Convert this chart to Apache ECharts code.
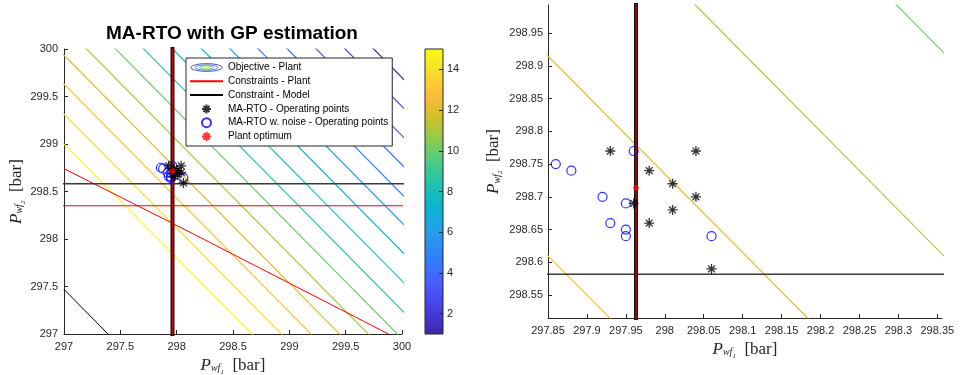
<!DOCTYPE html>
<html><head><meta charset="utf-8">
<script src="https://cdn.jsdelivr.net/npm/echarts@6/dist/echarts.min.js"></script>
<style>html,body{margin:0;padding:0;background:#fff}#c{width:963px;height:375px}</style>
</head><body><div id="c"></div>
<script>
// ---------------- data ----------------
const contourLevels = [15, 14, 13, 12, 11, 10, 9, 8, 7, 6, 5, 4, 3, 2, 1];
// contour lines: P2 = intercept + slope * P1
const contourIntercept = [655.40, 655.715, 656.03, 656.335, 656.64, 656.95, 657.25, 657.558, 657.868, 658.17, 658.47, 658.78, 659.087, 659.395, 659.698];
const contourSlope = -1.2;

const maRtoX = [297.93, 297.98, 298.01, 298.04, 298.04, 298.01, 297.98, 297.96, 298.06];
const maRtoY = [298.77, 298.74, 298.72, 298.77, 298.70, 298.68, 298.66, 298.69, 298.59];
const noiseX = [297.86, 297.88, 297.92, 297.93, 297.95, 297.95, 297.95, 297.96, 298.06];
const noiseY = [298.75, 298.74, 298.70, 298.66, 298.69, 298.65, 298.64, 298.77, 298.64];
const plantOptX = [297.963];
const plantOptY = [298.714];

const plantConstrP1 = 297.963;      // vertical plant constraint
const modelConstrP1 = 297.963;      // vertical model constraint
const plantConstrP2 = 298.35;       // horizontal plant constraint
const modelConstrP2 = 298.582;      // horizontal model constraint
const plantDiagX = [297, 297.963, 299.88];
const plantDiagY = [298.74, 298.165, 297];
const modelDiagX = [297, 297.39];
const modelDiagY = [297.47, 297];

const leftTicks = [297, 297.5, 298, 298.5, 299, 299.5, 300];
const rightXTicks = [297.85, 297.9, 297.95, 298, 298.05, 298.1, 298.15, 298.2, 298.25, 298.3, 298.35];
const rightYTicks = [298.55, 298.6, 298.65, 298.7, 298.75, 298.8, 298.85, 298.9, 298.95];
const colorbarTicks = [2, 4, 6, 8, 10, 12, 14];
const leftRange = [297, 300];
const rightXRange = [297.85, 298.356];
const rightYRange = [298.515, 298.993];
const colorRange = [1, 15];

// ---------------- parula colormap (index out of 63) ----------------
const parulaStops = [
  [0, '#3e26a8'], [4, '#4537d5'], [8, '#484cf0'], [12, '#4563fd'], [16, '#327cfc'],
  [20, '#2b91ef'], [24, '#20a5e3'], [28, '#08b4d0'], [32, '#19bfb6'], [36, '#37c897'],
  [40, '#64cd6f'], [44, '#9dc943'], [48, '#d1bf27'], [52, '#f8ba3d'], [54, '#fec338'],
  [56, '#fccf30'], [60, '#f5e924'], [63, '#f9fb15']
];
function hex2rgb(h){return [parseInt(h.substr(1,2),16),parseInt(h.substr(3,2),16),parseInt(h.substr(5,2),16)];}
function toHex(v){const s = v.toString(16); return s.length < 2 ? '0' + s : s;}
function parula(t){
  const idx = Math.max(0, Math.min(1, t)) * 63;
  for (let i = 0; i < parulaStops.length - 1; i++) {
    const a = parulaStops[i], b = parulaStops[i+1];
    if (idx >= a[0] && idx <= b[0]) {
      const f = (idx - a[0]) / (b[0] - a[0]);
      const ca = hex2rgb(a[1]), cb = hex2rgb(b[1]);
      return '#' + ca.map((v,k)=>toHex(Math.round(v + (cb[k]-v)*f))).join('');
    }
  }
  return parulaStops[parulaStops.length-1][1];
}
const levelColor = lv => parula((lv - colorRange[0]) / (colorRange[1] - colorRange[0]));
const barStops = [];
for (let i = 0; i <= 63; i++) barStops.push({offset: i / 63, color: parula(i / 63)});

// ---------------- styles ----------------
const SANS = 'Liberation Sans, Arial, Helvetica, sans-serif';
const SERIF = 'Liberation Serif, Times New Roman, serif';
const AX = '#262626';
const CLEAR = 'rgba(0,0,0,0)';
const asterisk = 'path://M5,0L5,10M0,5L10,5M1.6,1.6L8.4,8.4M1.6,8.4L8.4,1.6';

function nameRich(){
  return {
    p: {fontFamily: SERIF, fontStyle: 'italic', fontSize: 17, color: AX, lineHeight: 20},
    s: {fontFamily: SERIF, fontStyle: 'italic', fontSize: 10, color: AX, lineHeight: 20, verticalAlign: 'bottom', padding: [0,0,2,0]},
    t: {fontFamily: SERIF, fontStyle: 'italic', fontSize: 7, color: AX, lineHeight: 20, verticalAlign: 'bottom', padding: [0,0,0,0]},
    b: {fontFamily: SERIF, fontSize: 17, color: AX, lineHeight: 20}
  };
}
function axisBase(extra){
  return Object.assign({
    type: 'value',
    axisLine: {show: true, onZero: false, lineStyle: {color: AX, width: 1}},
    axisTick: {show: true, inside: true, length: 4, lineStyle: {color: AX, width: 1}},
    axisLabel: {color: AX, fontSize: 11, fontFamily: SANS},
    splitLine: {show: false},
    nameLocation: 'middle',
    nameTextStyle: {rich: nameRich()}
  }, extra);
}
const xName = '{p|P}{s|wf}{t|1}{b|  [bar]}';
const yName = '{p|P}{s|wf}{t|2}{b|  [bar]}';

const series = [];
function line(name, gi, data, color, width, z){
  series.push({type: 'line', name, xAxisIndex: gi, yAxisIndex: gi, data, symbol: 'none', showSymbol: false,
    silent: true, clip: true, z: z || 2, animation: false,
    lineStyle: {color, width, opacity: 1}, itemStyle: {color: CLEAR, borderColor: CLEAR, borderWidth: 0},
    emphasis: {disabled: true}});
}
[0, 1].forEach(gi => {
  contourLevels.forEach((lv, i) => {
    const c = contourIntercept[i];
    line('Objective - Plant', gi, [[296.5, c + contourSlope * 296.5], [300.5, c + contourSlope * 300.5]], levelColor(lv), 1.2, 2);
  });
});
[0, 1].forEach(gi => {
  line('Constraints - Plant', gi, [[296.5, plantConstrP2], [300.5, plantConstrP2]], '#ff0000', 1, 3);
  line('Constraints - Plant', gi, plantDiagX.map((x, k) => [x, plantDiagY[k]]), '#ff0000', 1, 3);
  line('Constraint - Model', gi, modelDiagX.map((x, k) => [x, modelDiagY[k]]), '#000000', 1, 3);
  line('Constraint - Model', gi, [[296.5, modelConstrP2], [300.5, modelConstrP2]], '#3a3a3a', 1.5, 3);
  line('Constraint - Model', gi, [[modelConstrP1, 296.5], [modelConstrP1, 300.5]], '#111111', 4, 3);
  line('Constraints - Plant', gi, [[plantConstrP1, 296.5], [plantConstrP1, 300.5]], '#c80000', 1.6, 3);
});
[0, 1].forEach(gi => {
  series.push({type: 'scatter', name: 'MA-RTO w. noise - Operating points', xAxisIndex: gi, yAxisIndex: gi,
    data: noiseX.map((x, k) => [x, noiseY[k]]), symbol: 'circle', symbolSize: 9, silent: true, z: 5,
    itemStyle: {color: CLEAR, borderColor: '#0000ff', borderWidth: 1.2}, emphasis: {disabled: true}});
  series.push({type: 'scatter', name: 'MA-RTO - Operating points', xAxisIndex: gi, yAxisIndex: gi,
    data: maRtoX.map((x, k) => [x, maRtoY[k]]), symbol: asterisk, symbolSize: 10, symbolKeepAspect: true, silent: true, z: 6,
    itemStyle: {color: CLEAR, borderColor: '#000000', borderWidth: 1.3}, emphasis: {disabled: true}});
  series.push({type: 'scatter', name: 'Plant optimum', xAxisIndex: gi, yAxisIndex: gi,
    data: plantOptX.map((x, k) => [x, plantOptY[k]]), symbol: asterisk, symbolSize: 6, symbolKeepAspect: true, silent: true, z: 7,
    itemStyle: {color: CLEAR, borderColor: '#ff0000', borderWidth: 1.5}, emphasis: {disabled: true}});
});
// colorbar: stacked bar from colorRange[0] to colorRange[1]
series.push({type: 'bar', name: '_cbBase', xAxisIndex: 2, yAxisIndex: 2, stack: 'cb', data: [colorRange[0]],
  barWidth: '100%', silent: true, itemStyle: {color: CLEAR}, emphasis: {disabled: true}});
series.push({type: 'bar', name: '_cb', xAxisIndex: 2, yAxisIndex: 2, stack: 'cb', data: [colorRange[1] - colorRange[0]],
  barWidth: '100%', silent: true, emphasis: {disabled: true},
  itemStyle: {color: new echarts.graphic.LinearGradient(0, 1, 0, 0, barStops)}});

const ellSvg = "<svg xmlns='http://www.w3.org/2000/svg' width='66' height='18' viewBox='0 0 66 18'>" +
  "<ellipse cx='33' cy='9' rx='31.5' ry='7.8' fill='none' stroke='#3b2fa8' stroke-width='1.6'/>" +
  "<ellipse cx='33' cy='9' rx='23' ry='5.4' fill='none' stroke='#2a62e0' stroke-width='1.6'/>" +
  "<ellipse cx='33' cy='9' rx='14' ry='3.4' fill='none' stroke='#19b5c0' stroke-width='1.6'/>" +
  "<ellipse cx='33' cy='9' rx='7' ry='1.7' fill='none' stroke='#e8e014' stroke-width='1.6'/></svg>";
const ellIcon = 'image://data:image/svg+xml;charset=utf-8,' + encodeURIComponent(ellSvg);

const option = {
  animation: false,
  backgroundColor: '#ffffff',
  textStyle: {fontFamily: SANS},
  title: {text: 'MA-RTO with GP estimation', left: 232, top: 24, textAlign: 'center', padding: 0,
    textStyle: {fontSize: 19, fontWeight: 'bold', color: '#000', fontFamily: SANS, lineHeight: 20}},
  grid: [
    {left: 64, top: 49, width: 338, height: 285, containLabel: false, outerBoundsMode: 'none'},
    {left: 548, top: 5, width: 394, height: 313, containLabel: false, outerBoundsMode: 'none'},
    {left: 425, top: 49, width: 18, height: 285, containLabel: false, outerBoundsMode: 'none',
      show: true, z: 10, backgroundColor: CLEAR, borderColor: AX, borderWidth: 1}
  ],
  xAxis: [
    axisBase({gridIndex: 0, min: leftRange[0], max: leftRange[1], interval: 0.5,
      axisLabel: {color: AX, fontSize: 11, fontFamily: SANS, margin: 7, customValues: leftTicks},
      axisTick: {show: true, inside: true, length: 4, lineStyle: {color: AX}, customValues: leftTicks},
      name: xName, nameGap: 19}),
    axisBase({gridIndex: 1, min: rightXRange[0], max: rightXRange[1],
      axisLabel: {color: AX, fontSize: 11, fontFamily: SANS, margin: 7, customValues: rightXTicks},
      axisTick: {show: true, inside: true, length: 4, lineStyle: {color: AX}, customValues: rightXTicks},
      name: xName, nameGap: 21}),
    {type: 'category', gridIndex: 2, data: ['cb'], show: false, boundaryGap: true}
  ],
  yAxis: [
    axisBase({gridIndex: 0, min: leftRange[0], max: leftRange[1], interval: 0.5,
      axisLabel: {color: AX, fontSize: 11, fontFamily: SANS, margin: 6, customValues: leftTicks},
      axisTick: {show: true, inside: true, length: 4, lineStyle: {color: AX}, customValues: leftTicks},
      name: yName, nameGap: 37}),
    axisBase({gridIndex: 1, min: rightYRange[0], max: rightYRange[1],
      axisLabel: {color: AX, fontSize: 11, fontFamily: SANS, margin: 5, customValues: rightYTicks},
      axisTick: {show: true, inside: true, length: 4, lineStyle: {color: AX}, customValues: rightYTicks},
      name: yName, nameGap: 44}),
    {type: 'value', gridIndex: 2, min: colorRange[0], max: colorRange[1], position: 'right', z: 10,
      axisLine: {show: false}, splitLine: {show: false},
      axisTick: {show: true, inside: true, length: 4, lineStyle: {color: AX}, customValues: colorbarTicks},
      axisLabel: {color: AX, fontSize: 11, fontFamily: SANS, margin: 4, customValues: colorbarTicks}}
  ],
  legend: {
    selectedMode: false, orient: 'vertical', left: 186, top: 58, padding: [4, 4, 4, 3],
    itemGap: 2.8, itemWidth: 33, itemHeight: 9, borderColor: AX, borderWidth: 1, backgroundColor: '#ffffff',
    textStyle: {fontSize: 10, fontFamily: SANS, color: '#000', lineHeight: 11},
    z: 10,
    data: [
      {name: 'Objective - Plant', icon: ellIcon},
      {name: 'Constraints - Plant'},
      {name: 'Constraint - Model'},
      {name: 'MA-RTO - Operating points'},
      {name: 'MA-RTO w. noise - Operating points'},
      {name: 'Plant optimum'}
    ]
  },
  series
};
const chart = echarts.init(document.getElementById('c'), null, {renderer: 'canvas'});
chart.setOption(option);
</script></body></html>
